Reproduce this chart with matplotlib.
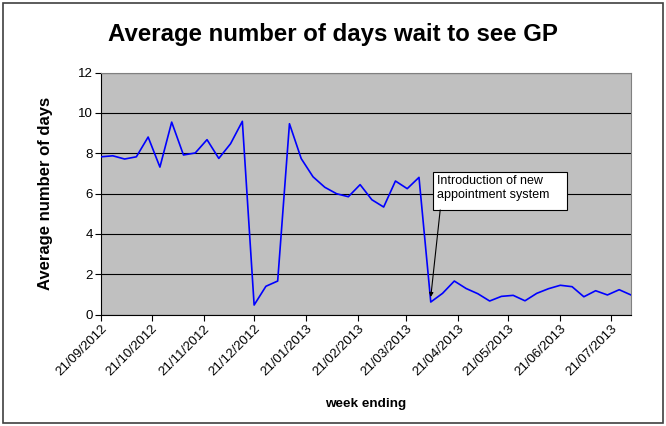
import pandas as pd
import matplotlib
matplotlib.use("Agg")
import matplotlib.pyplot as plt
import matplotlib.dates as mdates

plt.rcParams["font.family"] = ["Liberation Sans", "DejaVu Sans"]

# weekly averages, week ending dates
week_ending = pd.date_range("2012-09-21", periods=46, freq="7D")
avg_days = [
    7.82, 7.87, 7.71, 7.82, 8.80, 7.31, 9.54, 7.91, 8.01, 8.67,
    7.74, 8.47, 9.58, 0.47, 1.40, 1.66, 9.46, 7.73, 6.83, 6.31,
    5.99, 5.84, 6.44, 5.69, 5.33, 6.62, 6.24, 6.80, 0.62, 1.05,
    1.66, 1.29, 1.03, 0.67, 0.90, 0.95, 0.68, 1.05, 1.28, 1.45,
    1.38, 0.88, 1.18, 0.97, 1.23, 0.97,
]
tick_dates = pd.date_range("2012-09-01", "2013-07-01", freq="MS") + pd.Timedelta(days=20)
note = "Introduction of new\nappointment system"
note_idx = 28

fig = plt.figure(figsize=(6.66, 4.26), dpi=100)
ax = fig.add_axes([0.1517, 0.2617, 0.7957, 0.5681])
ax.set_facecolor("#C0C0C0")

ax.plot(week_ending, avg_days, color="#0000FF", lw=1.2, zorder=3)

ax.set_ylim(0, 12)
ax.set_yticks(range(0, 13, 2))
ax.set_xlim(week_ending[0], week_ending[-1])
ax.set_xticks(tick_dates)
ax.xaxis.set_major_formatter(mdates.DateFormatter("%d/%m/%Y"))

ax.grid(axis="y", color="black", lw=0.8)
ax.set_axisbelow(True)
for s in ["top", "right"]:
    ax.spines[s].set_color("#808080")
for s in ["left", "bottom"]:
    ax.spines[s].set_color("black")
    ax.spines[s].set_linewidth(0.8)

ax.tick_params(axis="both", direction="out", length=4, width=0.8, labelsize=9.5, pad=2)
plt.setp(ax.get_xticklabels(), rotation=45, ha="right", rotation_mode="anchor")

ax.set_ylabel("Average number of days", fontsize=12, fontweight="bold", labelpad=18)
ax.set_xlabel("week ending", fontsize=9.7, fontweight="bold", labelpad=14)
fig.suptitle("Average number of days wait to see GP", fontsize=17.3, fontweight="bold", y=0.945)

# callout box with arrow to the week the new system started
ax.add_patch(plt.Rectangle((0.626, 0.432), 0.253, 0.157, transform=ax.transAxes,
                           fc="white", ec="black", lw=0.8, zorder=4))
ax.text(0.634, 0.577, note, transform=ax.transAxes, ha="left", va="top",
        fontsize=9, linespacing=1.2, zorder=5)
ax.annotate("", xy=(week_ending[note_idx], avg_days[note_idx] + 0.25),
            xytext=(0.640, 0.432), textcoords="axes fraction",
            arrowprops=dict(arrowstyle="-|>", color="black", lw=0.8,
                            shrinkA=0, shrinkB=0, mutation_scale=6), zorder=5)

# outer chart border
fig.patches.append(plt.Rectangle((0.005, 0.007), 0.99, 0.986, transform=fig.transFigure,
                                 fill=False, ec="#404040", lw=1.2))

fig.savefig("out.png", dpi=100)
